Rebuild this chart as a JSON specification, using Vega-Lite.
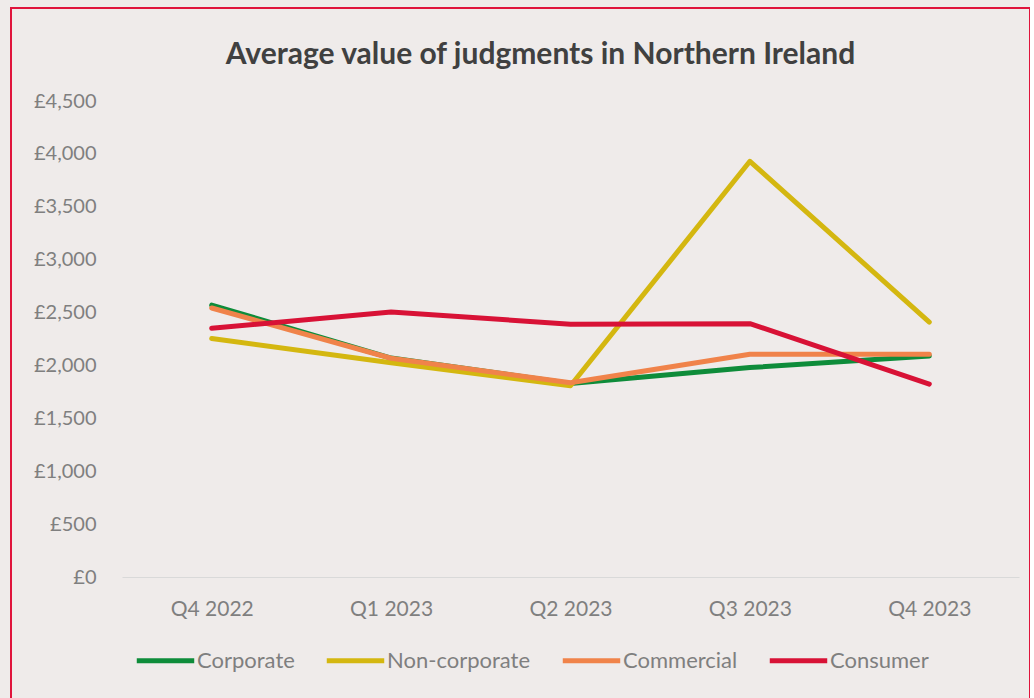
{
  "$schema": "https://vega.github.io/schema/vega-lite/v6.json",
  "width": 1019,
  "height": 700,
  "autosize": {"type": "none"},
  "padding": {"left": 11, "top": 8, "right": 0, "bottom": 0},
  "background": "#EFEBEA",
  "title": {
    "text": "Average value of judgments in Northern Ireland",
    "font": "Lato",
    "fontSize": 30,
    "fontWeight": "bold",
    "color": "#404040",
    "anchor": "middle",
    "frame": "group",
    "offset": -62,
    "dx": 20
  },
  "data": {
    "values": [
      {"quarter": "Q4 2022", "series": "Corporate", "value": 2570},
      {"quarter": "Q1 2023", "series": "Corporate", "value": 2070},
      {"quarter": "Q2 2023", "series": "Corporate", "value": 1830},
      {"quarter": "Q3 2023", "series": "Corporate", "value": 1980},
      {"quarter": "Q4 2023", "series": "Corporate", "value": 2090},
      {"quarter": "Q4 2022", "series": "Non-corporate", "value": 2255},
      {"quarter": "Q1 2023", "series": "Non-corporate", "value": 2025},
      {"quarter": "Q2 2023", "series": "Non-corporate", "value": 1808},
      {"quarter": "Q3 2023", "series": "Non-corporate", "value": 3930},
      {"quarter": "Q4 2023", "series": "Non-corporate", "value": 2410},
      {"quarter": "Q4 2022", "series": "Commercial", "value": 2543},
      {"quarter": "Q1 2023", "series": "Commercial", "value": 2068},
      {"quarter": "Q2 2023", "series": "Commercial", "value": 1836},
      {"quarter": "Q3 2023", "series": "Commercial", "value": 2106},
      {"quarter": "Q4 2023", "series": "Commercial", "value": 2106},
      {"quarter": "Q4 2022", "series": "Consumer", "value": 2352},
      {"quarter": "Q1 2023", "series": "Consumer", "value": 2505},
      {"quarter": "Q2 2023", "series": "Consumer", "value": 2390},
      {"quarter": "Q3 2023", "series": "Consumer", "value": 2395},
      {"quarter": "Q4 2023", "series": "Consumer", "value": 1824}
    ]
  },
  "mark": {"type": "line", "strokeWidth": 5, "strokeCap": "round", "strokeJoin": "round"},
  "encoding": {
    "x": {
      "field": "quarter",
      "type": "ordinal",
      "sort": ["Q4 2022", "Q1 2023", "Q2 2023", "Q3 2023", "Q4 2023"],
      "scale": {"type": "point", "range": [111, 1008], "padding": 0.5},
      "axis": {
        "title": null,
        "orient": "bottom",
        "offset": -131,
        "domain": true,
        "domainColor": "#D9D9D9",
        "domainWidth": 1,
        "ticks": false,
        "tickSize": 0,
        "grid": false,
        "labelAngle": 0,
        "labelPadding": 21,
        "labelFont": "Lato",
        "labelFontSize": 21,
        "labelColor": "#7F7F7F"
      }
    },
    "y": {
      "field": "value",
      "type": "quantitative",
      "scale": {"domain": [0, 4500], "range": [569, 93], "nice": false, "zero": true},
      "axis": {
        "title": null,
        "orient": "left",
        "offset": -85,
        "domain": false,
        "ticks": false,
        "tickSize": 0,
        "grid": false,
        "labelPadding": 0,
        "values": [0, 500, 1000, 1500, 2000, 2500, 3000, 3500, 4000, 4500],
        "labelExpr": "'£' + format(datum.value, ',')",
        "labelFont": "Lato",
        "labelFontSize": 20,
        "labelColor": "#7F7F7F",
        "labelBaseline": "middle"
      }
    },
    "color": {
      "field": "series",
      "type": "nominal",
      "sort": ["Corporate", "Non-corporate", "Commercial", "Consumer"],
      "scale": {
        "domain": ["Corporate", "Non-corporate", "Commercial", "Consumer"],
        "range": ["#0E8C3A", "#D4B710", "#F0834A", "#D81236"]
      },
      "legend": {
        "title": null,
        "orient": "none",
        "legendX": 123,
        "legendY": 621,
        "direction": "horizontal",
        "symbolType": "stroke",
        "symbolSize": 3300,
        "symbolStrokeWidth": 5,
        "labelFont": "Lato",
        "labelFontSize": 22,
        "labelColor": "#7F7F7F",
        "labelOffset": 0,
        "columnPadding": 21
      }
    }
  },
  "config": {
    "view": {"stroke": "#E0143C", "strokeWidth": 2, "fill": null}
  }
}
